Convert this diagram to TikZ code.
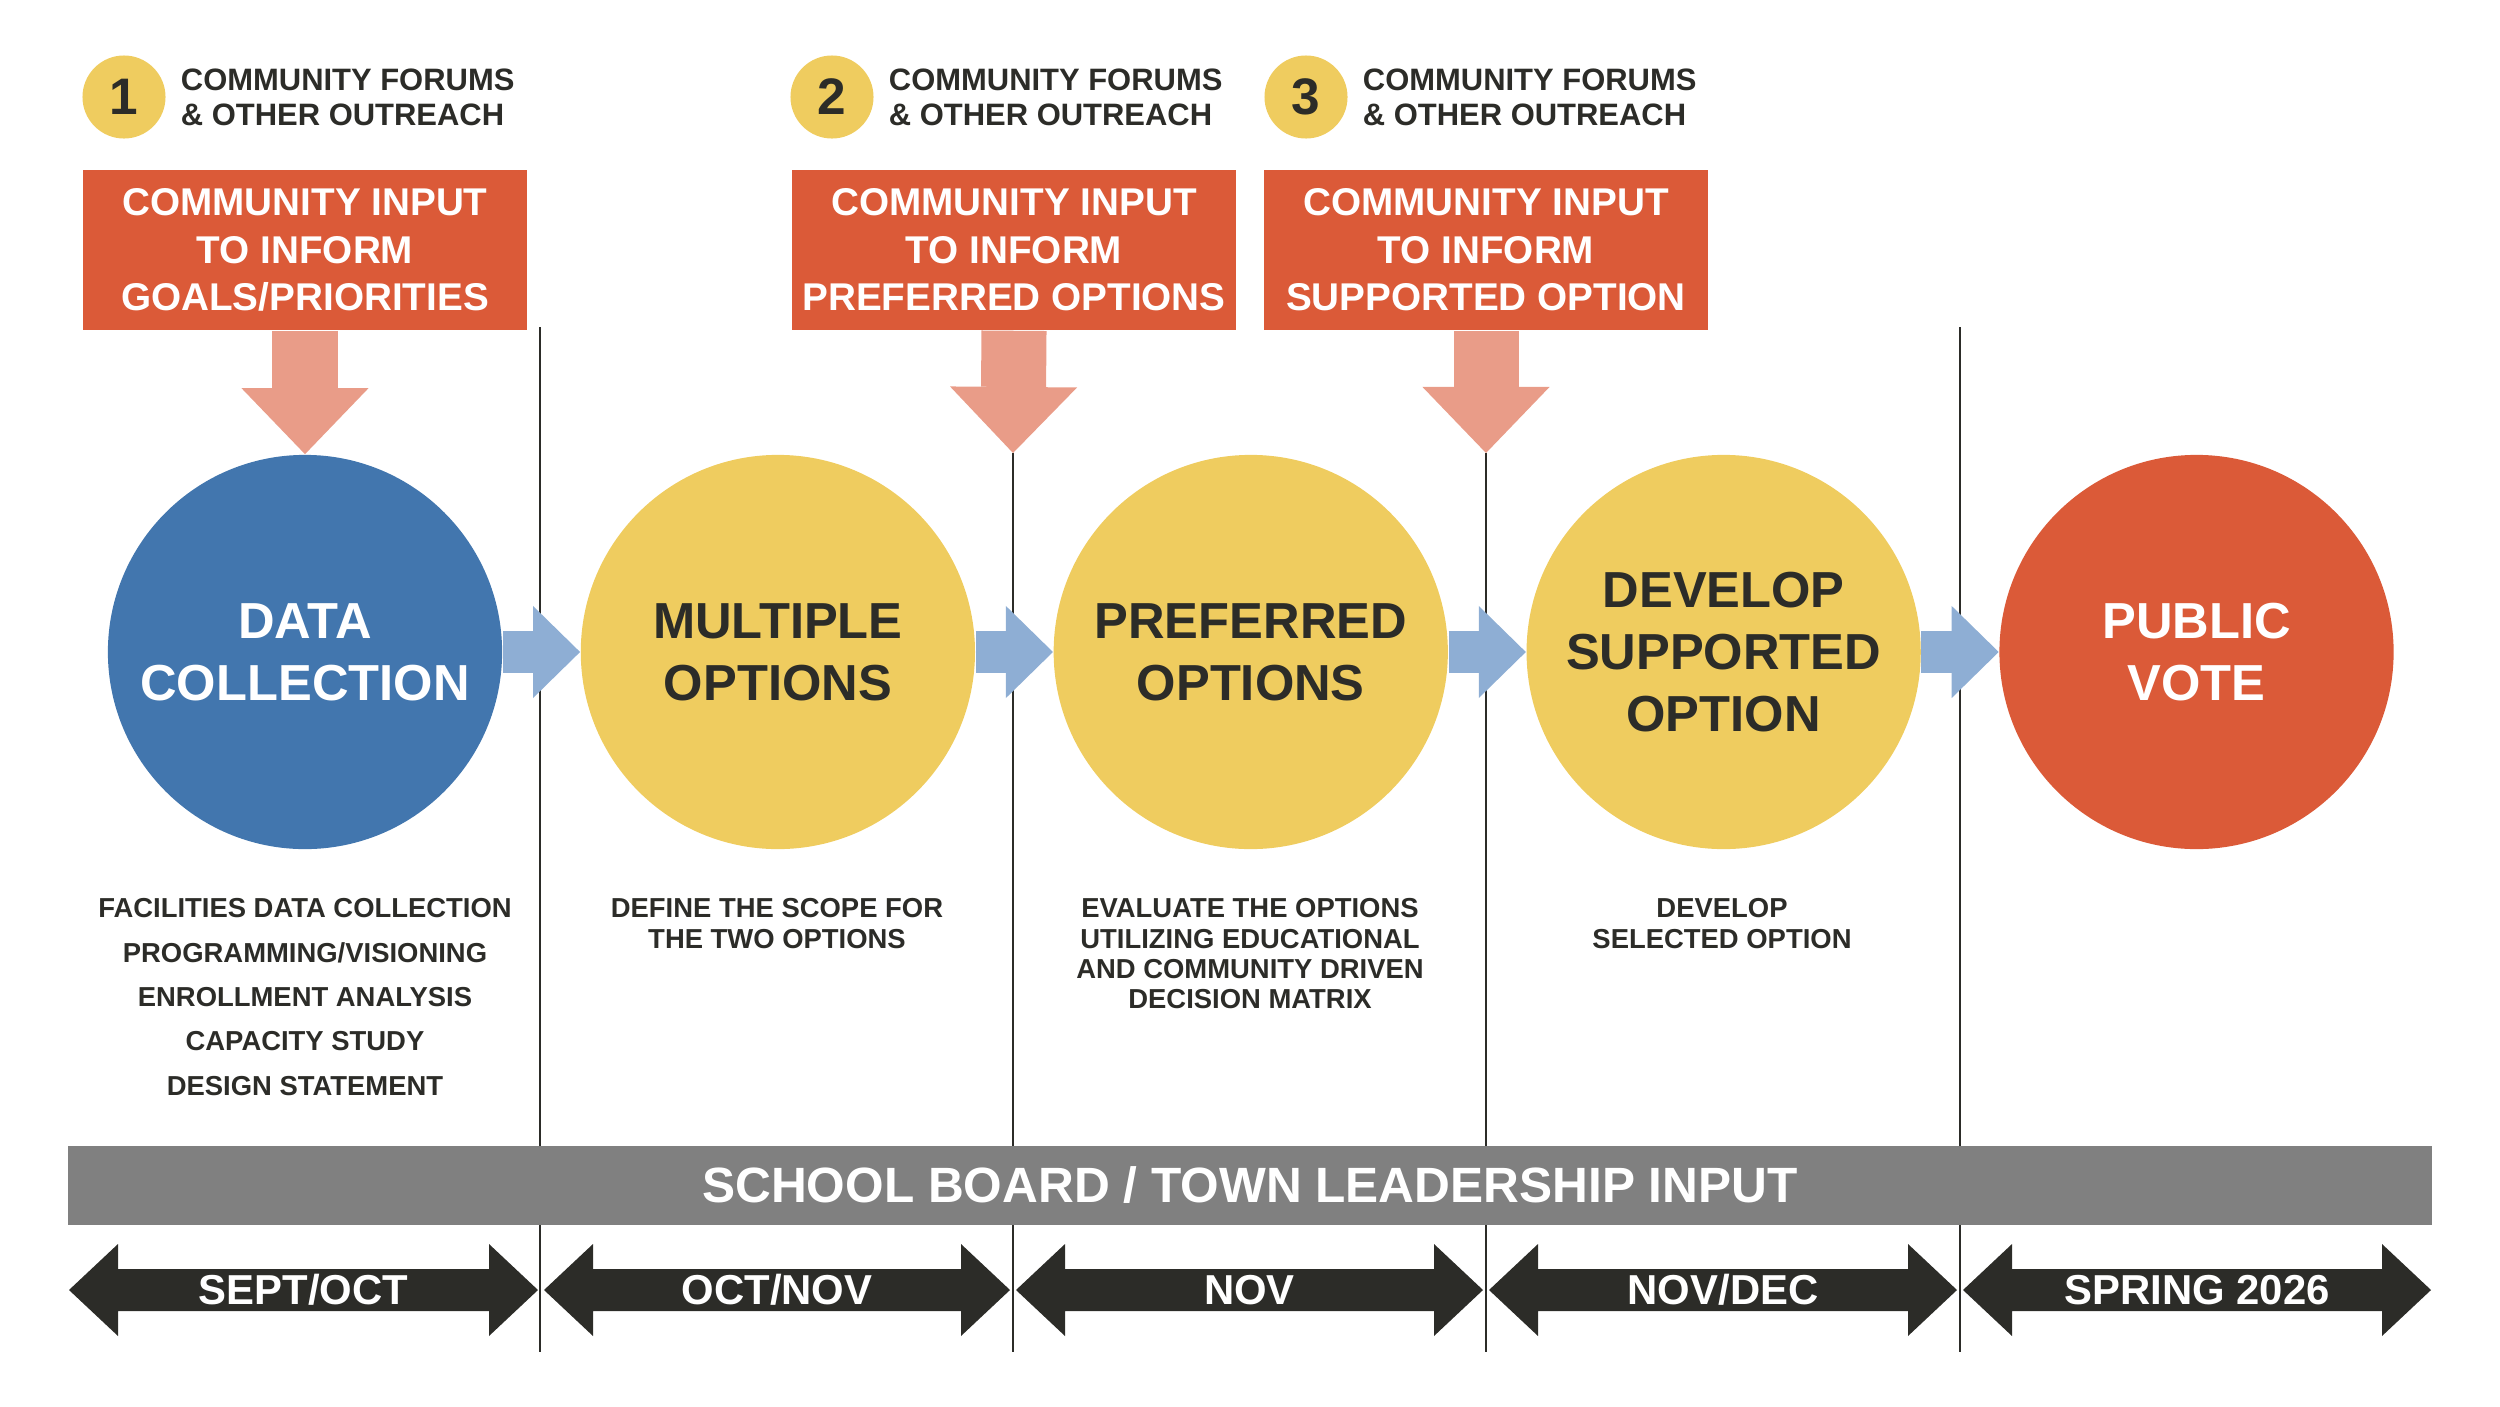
\documentclass[tikz,border=0pt]{standalone}
\usepackage{fontspec}
\setmainfont{Liberation Sans}
\usetikzlibrary{positioning, arrows.meta, calc}

\definecolor{inputred}{HTML}{DB5A38}
\definecolor{salmon}{HTML}{E99C88}
\definecolor{stepblue}{HTML}{4276AE}
\definecolor{paleblue}{HTML}{8EAED4}
\definecolor{stepyellow}{HTML}{EFCC5F}
\definecolor{ink}{HTML}{2C2C28}
\definecolor{boardgrey}{HTML}{808080}

\begin{document}
\begin{tikzpicture}[
    x=0.01cm, y=-0.01cm,
    phase/.style={circle, minimum size=3.94cm, inner sep=0pt, align=center, font=\fontsize{14.4}{17.6}\selectfont\bfseries},
    inputbox/.style={fill=inputred, text=white, minimum width=4.44cm, minimum height=1.6cm, inner sep=0pt, align=center, font=\fontsize{11}{13.5}\selectfont\bfseries},
    badge/.style={circle, fill=stepyellow, text=ink, minimum size=0.83cm, inner sep=0pt, font=\fontsize{14.6}{14.6}\selectfont\bfseries},
    forum/.style={anchor=west, align=left, inner sep=0pt, text=ink, font=\fontsize{8.8}{9.9}\selectfont\bfseries},
    desc/.style={anchor=north, align=center, inner sep=0pt, text=ink, font=\fontsize{7.8}{8.6}\selectfont\bfseries},
    inputarrow/.style={salmon, line width=0.65cm, -{Triangle[length=0.66cm, width=1.27cm, line width=0pt]}},
    steparrow/.style={paleblue, line width=0.41cm, -{Triangle[length=0.47cm, width=0.92cm, line width=0pt]}},
    divider/.style={ink, line width=0.6pt}
]
    \useasboundingbox (0,0) rectangle (2500,1406);

    % Phases
    \node[phase, fill=stepblue, text=white] (c1) at (305,652) {DATA\\COLLECTION};
    \node[phase, fill=stepyellow, text=ink, right=0.772cm of c1] (c2) {MULTIPLE\\OPTIONS};
    \node[phase, fill=stepyellow, text=ink, right=0.772cm of c2] (c3) {PREFERRED\\OPTIONS};
    \node[phase, fill=stepyellow, text=ink, right=0.772cm of c3] (c4) {DEVELOP\\SUPPORTED\\OPTION};
    \node[phase, fill=inputred, text=white, right=0.772cm of c4] (c5) {PUBLIC\\VOTE};

    % Community input
    \node[inputbox] (in1) at (305,250) {COMMUNITY INPUT\\TO INFORM\\GOALS/PRIORITIES};
    \node[inputbox] (in2) at (1014,250) {COMMUNITY INPUT\\TO INFORM\\PREFERRED OPTIONS};
    \node[inputbox] (in3) at (1486,250) {COMMUNITY INPUT\\TO INFORM\\SUPPORTED OPTION};

    \node[badge] (b1) at (124,97) {1};
    \node[badge] (b2) at (832,97) {2};
    \node[badge] (b3) at (1306,97) {3};
    \foreach \i in {1,2,3}
        \node[forum, right=0.14cm of b\i] (f\i) {COMMUNITY FORUMS\\\& OTHER OUTREACH};

    \coordinate (drop2) at (1013,453);
    \coordinate (drop3) at (1486,453);

    % Dividers
    \draw[divider] (540,327) -- (540,1352);
    \draw[divider] (drop2) -- (1013,1352);
    \draw[divider] (drop3) -- (1486,1352);
    \draw[divider] (1960,327) -- (1960,1352);

    % Links
    \draw[inputarrow] (in1.south) -- (c1.north);
    \draw[inputarrow] (in2.south) -- (drop2);
    \draw[inputarrow] (in3.south) -- (drop3);
    \foreach \a/\b in {c1/c2, c2/c3, c3/c4, c4/c5}
        \draw[steparrow] (\a) -- (\b);

    % Tasks
    \node[desc, font=\fontsize{7.8}{12.6}\selectfont\bfseries] (d1) at (305,898) {FACILITIES DATA COLLECTION\\PROGRAMMING/VISIONING\\ENROLLMENT ANALYSIS\\CAPACITY STUDY\\DESIGN STATEMENT};
    \node[desc] (d2) at (777,898) {DEFINE THE SCOPE FOR\\THE TWO OPTIONS};
    \node[desc] (d3) at (1250,898) {EVALUATE THE OPTIONS\\UTILIZING EDUCATIONAL\\AND COMMUNITY DRIVEN\\DECISION MATRIX};
    \node[desc] (d4) at (1722,898) {DEVELOP\\SELECTED OPTION};

    % Board input
    \node[fill=boardgrey, text=white, minimum width=23.62cm, minimum height=0.79cm, inner sep=0pt,
          font=\fontsize{14.1}{14}\selectfont\bfseries] (board) at (1250,1185.5) {SCHOOL BOARD / TOWN LEADERSHIP INPUT};

    % Timeline
    \foreach \xa/\xb/\lbl [count=\i] in {69/538/{SEPT/OCT}, 544/1010/{OCT/NOV}, 1016/1483/{NOV}, 1489/1957/{NOV/DEC}, 1963/2431/{SPRING 2026}} {
        \fill[ink] (\xa,1290) -- ({\xa+49},1244) -- ({\xa+49},1269) -- ({\xb-49},1269) -- ({\xb-49},1244)
            -- (\xb,1290) -- ({\xb-49},1336) -- ({\xb-49},1311) -- ({\xa+49},1311) -- ({\xa+49},1336) -- cycle;
        \node[text=white, inner sep=0pt, font=\fontsize{11.9}{12}\selectfont\bfseries] (t\i) at ({(\xa+\xb)/2},1290) {\lbl};
    }
\end{tikzpicture}
\end{document}
